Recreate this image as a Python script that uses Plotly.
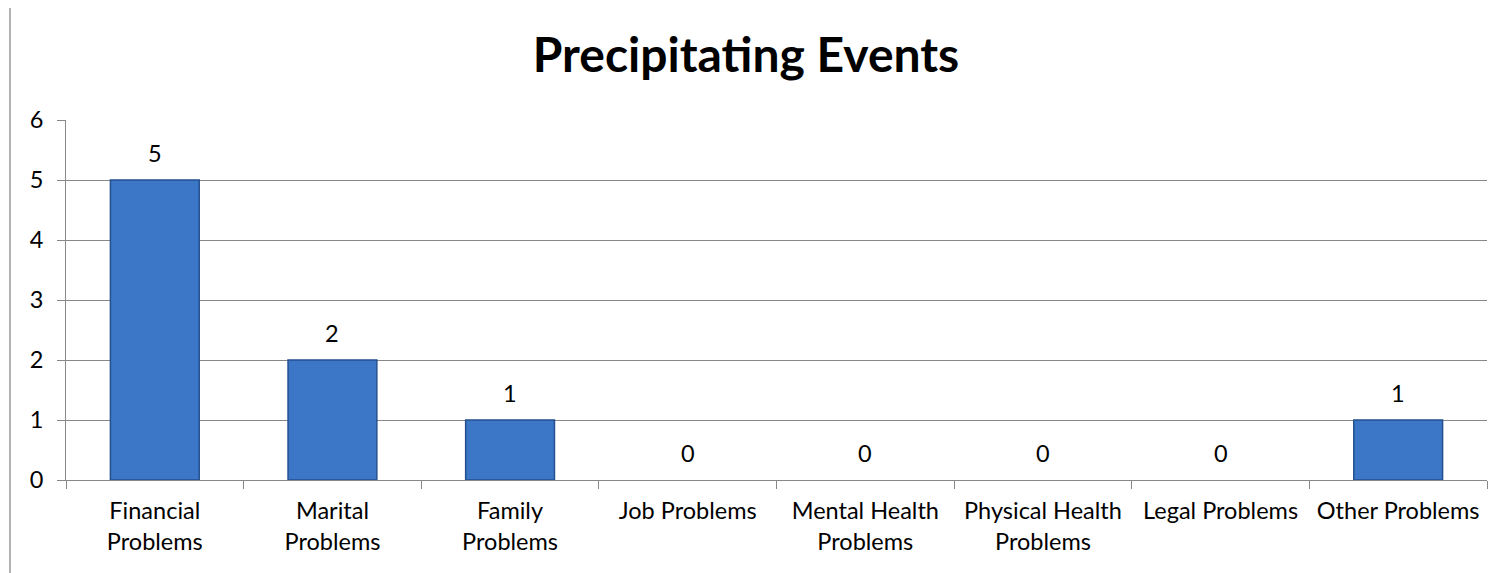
import plotly.graph_objects as go

categories = ["Financial<br>Problems", "Marital<br>Problems", "Family<br>Problems", "Job Problems",
              "Mental Health<br>Problems", "Physical Health<br>Problems", "Legal Problems", "Other Problems"]
values = [5, 2, 1, 0, 0, 0, 0, 1]
y_ticks = [0, 1, 2, 3, 4, 5, 6]

FONT = "Lato"
OFF = 8  # default page body margin
W, H = 1503 - OFF, 573 - OFF
L, T = 66 - OFF, 120 - OFF
R = 16
B = 93
pw = W - L - R
ph = H - T - B

fig = go.Figure(go.Bar(
    x=categories, y=values, width=0.5,
    marker=dict(color="#3B77C6",
                line=dict(color="#24508E", width=[1.5 if v > 0 else 0 for v in values])),
    hoverinfo="x+y",
))

for c, v in zip(categories, values):
    fig.add_annotation(x=c, y=v, text=str(v), showarrow=False, yshift=27,
                       font=dict(family=FONT, size=23.5, color="#000000"))

fig.update_layout(
    width=W, height=H,
    margin=dict(l=L, r=R, t=T, b=B),
    plot_bgcolor="white", paper_bgcolor="white",
    showlegend=False,
    title=dict(text="<b>Precipitating Events</b>", x=(746 - OFF) / W, xanchor="center",
               y=1 - (55 - OFF) / H, yanchor="middle",
               font=dict(family=FONT, size=48, color="#000000")),
)
fig.update_yaxes(range=[0, 6], tickvals=y_ticks, showgrid=True, gridcolor="#888888", gridwidth=1,
                 showline=True, linecolor="#888888", linewidth=1,
                 ticks="outside", ticklen=8, tickcolor="#888888", ticklabelstandoff=9,
                 tickfont=dict(family=FONT, size=23.5, color="#000000"), zeroline=False)
fig.update_xaxes(showline=True, linecolor="#888888", linewidth=1, tickson="boundaries",
                 ticks="outside", ticklen=8, tickcolor="#888888", tickangle=0, ticklabelstandoff=10,
                 tickfont=dict(family=FONT, size=23.5, color="#000000"))

fig.add_shape(type="line", xref="paper", yref="paper",
              x0=(10 - 66) / pw, x1=(10 - 66) / pw,
              y0=-B / ph, y1=(ph + T) / ph,
              line=dict(color="#9A9A9A", width=1.5))

fig.write_html("out.html")
